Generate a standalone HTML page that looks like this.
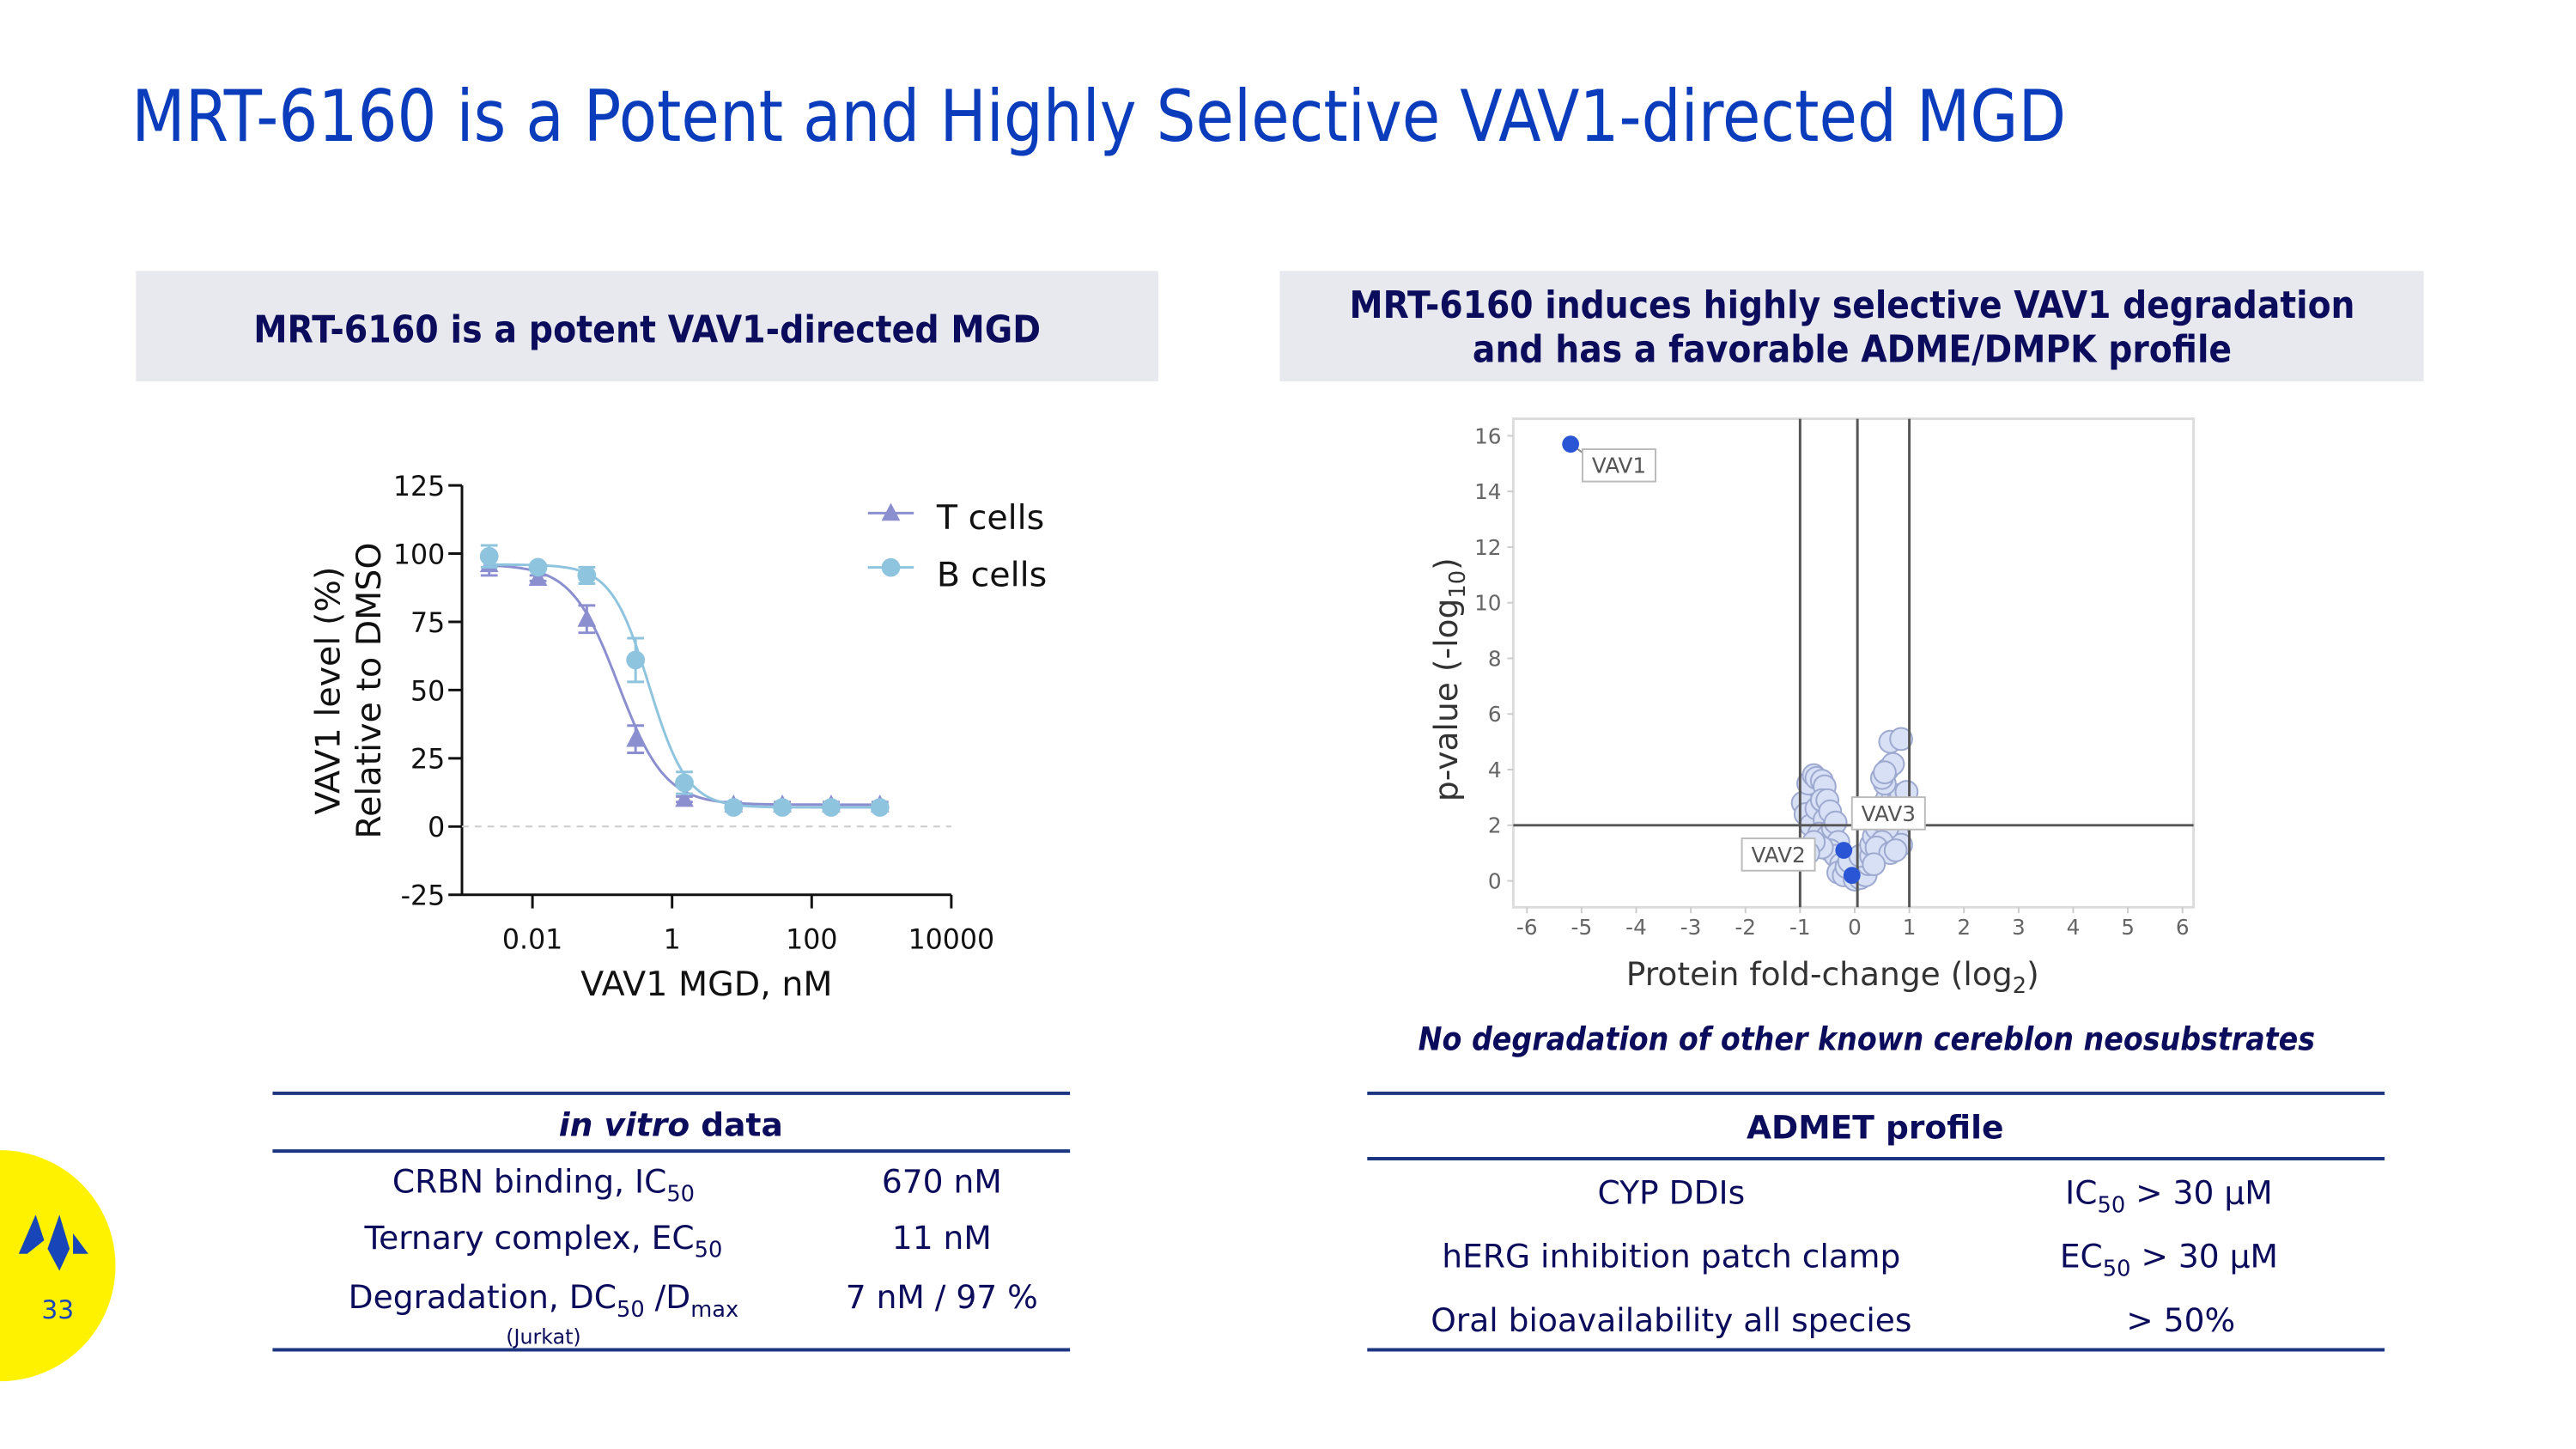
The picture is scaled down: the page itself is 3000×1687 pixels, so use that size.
<!DOCTYPE html>
<html><head><meta charset="utf-8"><style>
html,body{margin:0;padding:0;background:#fff;}
svg{display:block;}
text{font-family:"DejaVu Sans","Liberation Sans",sans-serif;}
</style></head><body>
<svg id="page" width="3000" height="1687" viewBox="0 0 3000 1687" xmlns="http://www.w3.org/2000/svg">
<g transform="scale(0.989)">
<text x="155" y="166" font-size="84" fill="#0a3cbc" textLength="2278" lengthAdjust="spacingAndGlyphs">MRT-6160 is a Potent and Highly Selective VAV1-directed MGD</text>

<rect x="160" y="319" width="1204" height="130" fill="#e8e8ef"/>
<text x="762" y="403" font-size="44" font-weight="bold" fill="#0c0c5c" text-anchor="middle" textLength="927" lengthAdjust="spacingAndGlyphs">MRT-6160 is a potent VAV1-directed MGD</text>
<rect x="1507" y="319" width="1347" height="130" fill="#e8e8ef"/>
<text x="2181" y="374" font-size="44" font-weight="bold" fill="#0c0c5c" text-anchor="middle" textLength="1184" lengthAdjust="spacingAndGlyphs">MRT-6160 induces highly selective VAV1 degradation</text>
<text x="2181" y="426" font-size="44" font-weight="bold" fill="#0c0c5c" text-anchor="middle" textLength="894" lengthAdjust="spacingAndGlyphs">and has a favorable ADME/DMPK profile</text>

<g id="doseChart"></g>
<g id="volcano"></g>

<text x="2198" y="1236" font-size="38" font-weight="bold" font-style="italic" fill="#0c0c5c" text-anchor="middle" textLength="1056" lengthAdjust="spacingAndGlyphs">No degradation of other known cereblon neosubstrates</text>

<g fill="#0c0c5c" font-size="38">
<line x1="321" y1="1287" x2="1260" y2="1287" stroke="#1c3580" stroke-width="4"/>
<line x1="321" y1="1355" x2="1260" y2="1355" stroke="#1c3580" stroke-width="4"/>
<line x1="321" y1="1589" x2="1260" y2="1589" stroke="#1c3580" stroke-width="4"/>
<text x="790" y="1337" text-anchor="middle" font-weight="bold"><tspan font-style="italic">in vitro</tspan> data</text>
<text x="640" y="1404" text-anchor="middle">CRBN binding, IC<tspan font-size="26" dy="10">50</tspan></text>
<text x="1109" y="1404" text-anchor="middle">670 nM</text>
<text x="640" y="1470" text-anchor="middle">Ternary complex, EC<tspan font-size="26" dy="10">50</tspan></text>
<text x="1109" y="1470" text-anchor="middle">11 nM</text>
<text x="640" y="1540" text-anchor="middle">Degradation, DC<tspan font-size="26" dy="10">50</tspan><tspan dy="-10"> /D</tspan><tspan font-size="26" dy="10">max</tspan></text>
<text x="1109" y="1540" text-anchor="middle">7 nM / 97 %</text>
<text x="640" y="1582" text-anchor="middle" font-size="24">(Jurkat)</text>
</g>

<g fill="#0c0c5c" font-size="38">
<line x1="1610" y1="1287" x2="2808" y2="1287" stroke="#1c3580" stroke-width="4"/>
<line x1="1610" y1="1364" x2="2808" y2="1364" stroke="#1c3580" stroke-width="4"/>
<line x1="1610" y1="1589" x2="2808" y2="1589" stroke="#1c3580" stroke-width="4"/>
<text x="2208" y="1340" text-anchor="middle" font-weight="bold">ADMET profile</text>
<text x="1968" y="1417" text-anchor="middle">CYP DDIs</text>
<text x="2554" y="1417" text-anchor="middle">IC<tspan font-size="26" dy="10">50</tspan><tspan dy="-10"> &gt; 30 µM</tspan></text>
<text x="1968" y="1492" text-anchor="middle">hERG inhibition patch clamp</text>
<text x="2554" y="1492" text-anchor="middle">EC<tspan font-size="26" dy="10">50</tspan><tspan dy="-10"> &gt; 30 µM</tspan></text>
<text x="1968" y="1567" text-anchor="middle">Oral bioavailability all species</text>
<text x="2568" y="1567" text-anchor="middle">&gt; 50%</text>
</g>

<g>
<circle cx="0" cy="1490" r="136" fill="#fff200"/>
<polygon points="22,1476 42,1430 52,1460 32,1476" fill="#1846b8"/>
<polygon points="56,1470 70,1430 82,1470 70,1496" fill="#1846b8"/>
<polygon points="86,1452 104,1476 86,1476" fill="#1846b8"/>
<text x="68" y="1552" font-size="30" fill="#1846b8" text-anchor="middle">33</text>
</g>
</g>
</svg>
<script>
// ---------- Dose-response data ----------
const doseConc = [0.0024, 0.012, 0.06, 0.3, 1.5, 7.6, 38, 190, 950];
const tCells = [96, 91, 76, 32, 10, 8, 8, 8, 8];
const tErr = [4, 1, 5, 5, 1, 1, 1, 1, 1];
const bCells = [99, 95, 92, 61, 16, 7, 7, 7, 7];
const bErr = [4, 1, 3, 8, 4, 1, 1, 1, 1];
const fitTop = [96, 96];
const fitBottom = [8, 7];
const fitEC50 = [0.17, 0.47];
const fitHill = [1.3, 1.6];
const yTicks = [125, 100, 75, 50, 25, 0, -25];
const xTickVals = [0.01, 1, 100, 10000];
const xTickLabels = ["0.01", "1", "100", "10000"];

// ---------- Volcano data ----------
const fcX = [-0.95,-0.9,-0.85,-0.75,-0.7,-0.6,-0.55,-0.8,-0.7,-0.6,-0.5,-0.55,-0.45,-0.65,-0.5,-0.4,-0.35,-0.3,-0.45,-0.35,-0.25,-0.3,-0.2,-0.15,-0.6,-0.75,-0.85,
 0,0.1,0.05,0.15,0.2,0.25,-0.1,0.1,0.3,
 0.3,0.35,0.4,0.45,0.5,0.55,0.6,0.7,0.8,0.85,0.9,0.95,0.7,0.75,0.8,0.85,0.6,0.5,0.45,0.55,0.5,0.6,0.7,0.65,0.85,0.55,0.4,0.65,0.75,0.35];
const pY = [2.8,2.4,3.5,3.8,3.7,3.6,3.4,2.0,2.6,2.9,2.9,2.2,2.5,1.7,1.6,1.9,2.1,1.4,1.1,0.9,0.6,0.3,0.2,0.5,1.2,1.4,1.0,
 0.05,0.1,0.3,0.4,0.2,0.6,0.7,0.9,0.9,
 1.3,1.6,1.9,2.2,2.5,2.8,3.0,3.1,2.9,3.1,2.6,3.2,2.4,2.0,1.6,1.3,1.9,1.4,1.0,3.5,3.7,4.0,4.2,5.0,5.1,3.9,1.2,1.0,1.1,0.6];
const hitNames = ["VAV1", "VAV2", "VAV3"];
const hitX = [-5.2, -0.2, -0.05];
const hitY = [15.7, 1.1, 0.2];
const volXTicks = [-6,-5,-4,-3,-2,-1,0,1,2,3,4,5,6];
const volYTicks = [0,2,4,6,8,10,12,14,16];
const cutX = [-1, 0.05, 1];
const cutY = [2];

const NS = "http://www.w3.org/2000/svg";
function mk(parent, tag, attrs, txt) {
  const e = document.createElementNS(NS, tag);
  for (const k in attrs) e.setAttribute(k, attrs[k]);
  if (txt !== undefined) e.textContent = txt;
  parent.appendChild(e);
  return e;
}

(function () {
  const g = document.getElementById('doseChart');
  const X = v => 627 + (Math.log10(v) + 2) * 82.2;
  const Y = v => 973 - v * 3.213;
  const axColor = "#111";
  let e;
  e = mk(g, 'line', {x1: 544, y1: Y(125), x2: 544, y2: Y(-25), stroke: axColor, 'stroke-width': 3});
  
  
  e = mk(g, 'line', {x1: 544, y1: Y(-25), x2: X(10000), y2: Y(-25), stroke: axColor, 'stroke-width': 3});
  
  
  e = mk(g, 'line', {x1: 544, y1: Y(0), x2: X(10000), y2: Y(0), stroke: "#ccc", 'stroke-width': 2, 'stroke-dasharray': '8 7'});
  
  
  yTicks.forEach(t => {
    mk(g, 'line', {x1: 528, y1: Y(t), x2: 544, y2: Y(t), stroke: axColor, 'stroke-width': 3});
    e = mk(g, 'text', {x: 524, y: Y(t) + 12, 'font-size': 32, 'text-anchor': 'end', fill: '#111'}, String(t));
    
    
  });
  xTickVals.forEach((t, i) => {
    mk(g, 'line', {x1: X(t), y1: Y(-25), x2: X(t), y2: Y(-25) + 16, stroke: axColor, 'stroke-width': 3});
    e = mk(g, 'text', {x: X(t), y: 1117, 'font-size': 32, 'text-anchor': 'middle', fill: '#111'}, xTickLabels[i]);
    
    
  });
  e = mk(g, 'text', {x: 832, y: 1172, 'font-size': 40, 'text-anchor': 'middle', fill: '#111'}, 'VAV1 MGD, nM');
  
  
  e = mk(g, 'text', {x: 0, y: 0, 'font-size': 40, 'text-anchor': 'middle', fill: '#111', transform: 'translate(400,813) rotate(-90)'}, 'VAV1 level (%)');
  
  
  e = mk(g, 'text', {x: 0, y: 0, 'font-size': 40, 'text-anchor': 'middle', fill: '#111', transform: 'translate(448,813) rotate(-90)'}, 'Relative to DMSO');
  
  

  const series = [
    {vals: tCells, err: tErr, color: '#8c8fcf', name: 't-cells', shape: 'tri'},
    {vals: bCells, err: bErr, color: '#8fc4de', name: 'b-cells', shape: 'circ'}
  ];
  series.forEach((s, si) => {
    let d = '';
    for (let k = 0; k <= 200; k++) {
      const lx = -2.7 + k * (3.05 + 2.7) / 200;
      const c = Math.pow(10, lx);
      const v = fitBottom[si] + (fitTop[si] - fitBottom[si]) / (1 + Math.pow(c / fitEC50[si], fitHill[si]));
      d += (k ? 'L' : 'M') + X(c).toFixed(1) + ',' + Y(v).toFixed(1);
    }
    e = mk(g, 'path', {d: d, fill: 'none', stroke: s.color, 'stroke-width': 3});
    
    
    s.vals.forEach((v, i) => {
      const x = X(doseConc[i]), y = Y(v);
      const eh = s.err[i] * 3.213;
      e = mk(g, 'path', {d: `M${x},${y - eh}V${y + eh}M${x - 10},${y - eh}H${x + 10}M${x - 10},${y + eh}H${x + 10}`, stroke: s.color, 'stroke-width': 3, fill: 'none'});
      
      
      if (s.shape === 'tri') {
        e = mk(g, 'polygon', {points: `${x},${y - 12} ${x - 11},${y + 9} ${x + 11},${y + 9}`, fill: s.color});
      } else {
        e = mk(g, 'circle', {cx: x, cy: y, r: 11, fill: s.color});
      }
      
      
    });
  });
  e = mk(g, 'line', {x1: 1022, y1: 604, x2: 1076, y2: 604, stroke: '#8c8fcf', 'stroke-width': 3});
  
  
  mk(g, 'polygon', {points: '1049,592 1038,613 1060,613', fill: '#8c8fcf'});
  e = mk(g, 'text', {x: 1103, y: 623, 'font-size': 40, fill: '#111'}, 'T cells');
  
  
  e = mk(g, 'line', {x1: 1022, y1: 668, x2: 1076, y2: 668, stroke: '#8fc4de', 'stroke-width': 3});
  
  
  mk(g, 'circle', {cx: 1049, cy: 668, r: 11, fill: '#8fc4de'});
  e = mk(g, 'text', {x: 1103, y: 690, 'font-size': 40, fill: '#111'}, 'B cells');
  
  
})();

(function () {
  const g = document.getElementById('volcano');
  const X = v => 2184 + v * 64.33;
  const Y = v => 1037 - v * 32.75;
  let e;
  e = mk(g, 'rect', {x: 1782, y: 493, width: 801, height: 575, fill: '#fff', stroke: '#dcdcdc', 'stroke-width': 3});
  
  
  volYTicks.forEach(t => {
    mk(g, 'line', {x1: 1775, y1: Y(t), x2: 1782, y2: Y(t), stroke: '#ccc', 'stroke-width': 2});
    e = mk(g, 'text', {x: 1768, y: Y(t) + 9, 'font-size': 25, 'text-anchor': 'end', fill: '#666'}, String(t));
    
    
  });
  volXTicks.forEach(t => {
    mk(g, 'line', {x1: X(t), y1: 1068, x2: X(t), y2: 1075, stroke: '#ccc', 'stroke-width': 2});
    e = mk(g, 'text', {x: X(t), y: 1100, 'font-size': 25, 'text-anchor': 'middle', fill: '#666'}, String(t));
    
    
  });
  e = mk(g, 'text', {x: 2158, y: 1160, 'font-size': 38, 'text-anchor': 'middle', fill: '#333'});
  e.innerHTML = 'Protein fold-change (log<tspan font-size="26" dy="9">2</tspan><tspan dy="-9">)</tspan>';
  
  
  e = mk(g, 'text', {x: 0, y: 0, 'font-size': 38, 'text-anchor': 'middle', fill: '#333', transform: 'translate(1716,800) rotate(-90)'});
  e.innerHTML = 'p-value (-log<tspan font-size="26" dy="9">10</tspan><tspan dy="-9">)</tspan>';
  
  

  fcX.forEach((v, i) => {
    e = mk(g, 'circle', {cx: X(v), cy: Y(pY[i]), r: 13, fill: '#d8e0f6', stroke: '#9ea9cf', 'stroke-width': 2});
    
    
  });
  cutX.forEach(c => {
    e = mk(g, 'line', {x1: X(c), y1: 493, x2: X(c), y2: 1068, stroke: '#555', 'stroke-width': 3});
    
    
  });
  cutY.forEach(c => {
    e = mk(g, 'line', {x1: 1782, y1: Y(c), x2: 2583, y2: Y(c), stroke: '#555', 'stroke-width': 3});
    
    
  });
  const labelOff = [[14, 6], [-120, -14], [0, -92]];
  hitNames.forEach((n, i) => {
    const x = X(hitX[i]), y = Y(hitY[i]);
    const lx = x + labelOff[i][0], ly = y + labelOff[i][1];
    if (i === 0) mk(g, 'line', {x1: x, y1: y, x2: lx, y2: ly + 4, stroke: '#888', 'stroke-width': 2});
    e = mk(g, 'rect', {x: lx, y: ly, width: 86, height: 38, fill: '#fff', stroke: '#bbb', 'stroke-width': 2});
    
    
    e = mk(g, 'text', {x: lx + 43, y: ly + 28, 'font-size': 25, 'text-anchor': 'middle', fill: '#555'}, n);
    
    
    e = mk(g, 'circle', {cx: x, cy: y, r: 10, fill: '#2a55d4'});
    
    
  });
})();
</script>
</body></html>
